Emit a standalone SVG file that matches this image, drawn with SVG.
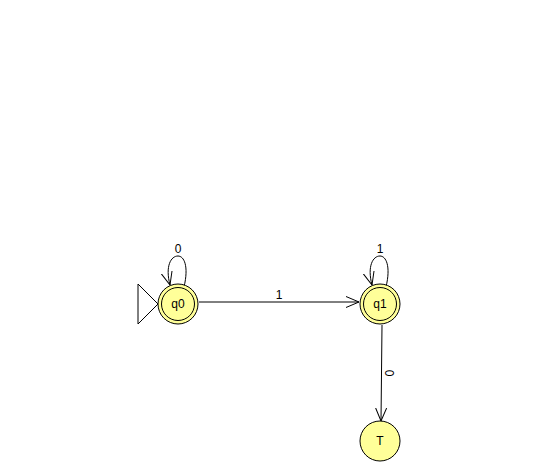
<svg xmlns="http://www.w3.org/2000/svg" width="557" height="462" viewBox="0 0 557 462">
<style>
.st{fill:#ffff99;stroke:#000;stroke-width:1}
.in{fill:none;stroke:#000;stroke-width:1}
.e{fill:none;stroke:#000;stroke-width:1}
.t{font-family:"Liberation Sans",Arial,sans-serif;font-size:12px;fill:#000;text-anchor:middle}
</style>
<defs>
<marker id="ah" viewBox="0 0 14 14" refX="13" refY="7" markerWidth="14" markerHeight="14" markerUnits="userSpaceOnUse" orient="auto">
<path d="M0,1.5 L13,7 L0,12.5" fill="none" stroke="#000" stroke-width="1"/>
</marker>
</defs>
<rect width="557" height="462" fill="#fff"/>
<g id="connectors">
<path class="e" d="M199,302 L359,302" marker-end="url(#ah)"/>
<text class="t" x="279" y="299">1</text>
<path class="e" d="M382,325 L381,421" marker-end="url(#ah)"/>
<text class="t" transform="translate(385,373) rotate(90)" x="0" y="0">0</text>
<path class="e" d="M184,287 C189,266 184,256 178,256 C171,256 165,266 170,285" marker-end="url(#ah)"/>
<text class="t" x="178" y="253">0</text>
<path class="e" d="M386,287 C391,266 386,256 380,256 C373,256 367,266 372,285" marker-end="url(#ah)"/>
<text class="t" x="380" y="253">1</text>
</g>
<g id="start">
<path class="in" d="M138,284 L158,304 L138,324 Z"/>
</g>
<g id="q0">
<circle class="st" cx="178" cy="304" r="20"/>
<circle class="in" cx="178" cy="304" r="16.5"/>
<text class="t" x="178" y="308">q0</text>
</g>
<g id="q1">
<circle class="st" cx="380" cy="304" r="20"/>
<circle class="in" cx="380" cy="304" r="16.5"/>
<text class="t" x="380" y="308">q1</text>
</g>
<g id="T">
<circle class="st" cx="380" cy="441" r="20"/>
<text class="t" x="380" y="445">T</text>
</g>
</svg>
